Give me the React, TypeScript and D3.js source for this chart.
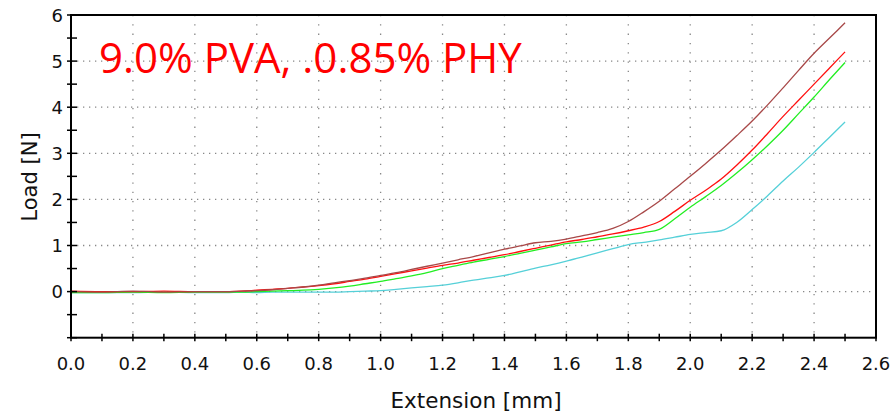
import React from "react";
import * as d3 from "d3";

const W = 895;
const H = 415;

const extension = [0, 0.1, 0.2, 0.3, 0.4, 0.5, 0.55, 0.6, 0.65, 0.7, 0.75, 0.8, 0.85, 0.9, 0.95, 1.0, 1.05, 1.1, 1.15, 1.2, 1.25, 1.3, 1.35, 1.4, 1.45, 1.5, 1.55, 1.6, 1.65, 1.7, 1.75, 1.8, 1.85, 1.9, 1.95, 2.0, 2.05, 2.1, 2.15, 2.2, 2.25, 2.3, 2.35, 2.4, 2.45, 2.5];

const loadBrown = [0, -0.01, 0.01, -0.01, 0, 0, 0.01, 0.02, 0.04, 0.07, 0.1, 0.14, 0.19, 0.24, 0.29, 0.35, 0.41, 0.48, 0.55, 0.62, 0.69, 0.76, 0.84, 0.92, 0.99, 1.06, 1.09, 1.14, 1.21, 1.28, 1.37, 1.52, 1.73, 1.96, 2.23, 2.5, 2.78, 3.07, 3.38, 3.7, 4.05, 4.42, 4.8, 5.17, 5.5, 5.83];
const loadRed = [0.01, 0, 0, 0.01, 0, 0, 0.01, 0.03, 0.05, 0.07, 0.1, 0.13, 0.17, 0.22, 0.27, 0.33, 0.39, 0.45, 0.51, 0.57, 0.62, 0.68, 0.74, 0.8, 0.87, 0.94, 1.01, 1.08, 1.13, 1.19, 1.25, 1.32, 1.4, 1.52, 1.74, 1.98, 2.2, 2.44, 2.74, 3.07, 3.43, 3.8, 4.15, 4.5, 4.85, 5.2];
const loadGreen = [-0.02, -0.02, -0.01, -0.02, -0.01, -0.01, -0.01, 0, 0.01, 0.02, 0.03, 0.05, 0.08, 0.12, 0.17, 0.22, 0.28, 0.34, 0.41, 0.5, 0.57, 0.64, 0.7, 0.76, 0.83, 0.9, 0.97, 1.04, 1.08, 1.13, 1.18, 1.23, 1.28, 1.35, 1.58, 1.83, 2.06, 2.3, 2.57, 2.86, 3.17, 3.5, 3.86, 4.22, 4.6, 4.97];
const loadCyan = [-0.02, -0.02, -0.02, -0.01, -0.02, -0.02, -0.01, -0.02, -0.01, -0.01, -0.01, -0.01, -0.01, 0, 0.01, 0.02, 0.05, 0.08, 0.11, 0.14, 0.19, 0.25, 0.3, 0.35, 0.43, 0.51, 0.58, 0.66, 0.75, 0.84, 0.93, 1.02, 1.07, 1.12, 1.18, 1.24, 1.28, 1.32, 1.5, 1.78, 2.08, 2.4, 2.7, 3.02, 3.35, 3.68];

const seriesNames = ["cyan", "green", "red", "brown"];
const seriesLoads = [loadCyan, loadGreen, loadRed, loadBrown];
const seriesColors = ["#55d0d8", "#22ee22", "#ff1010", "#a84848"];

const xTicksMajor = [0, 0.2, 0.4, 0.6, 0.8, 1.0, 1.2, 1.4, 1.6, 1.8, 2.0, 2.2, 2.4, 2.6];
const xTicksMinor = [0.1, 0.3, 0.5, 0.7, 0.9, 1.1, 1.3, 1.5, 1.7, 1.9, 2.1, 2.3, 2.5];
const yTicksMajor = [0, 1, 2, 3, 4, 5, 6];
const yTicksMinor = [-1, -0.5, 0.5, 1.5, 2.5, 3.5, 4.5, 5.5];

const title = "9.0% PVA, .0.85% PHY";
const xLabel = "Extension [mm]";
const yLabel = "Load [N]";

export default function App() {
  const left = 71, right = 876, top = 15, bottom = 337.7;
  const x = d3.scaleLinear().domain([0, 2.6]).range([left, right]);
  const y = d3.scaleLinear().domain([-1, 6]).range([bottom, top]);
  const line = d3
    .line<number>()
    .x((_, i) => x(extension[i]))
    .y((d) => y(d))
    .curve(d3.curveMonotoneX);
  const font = "'DejaVu Sans', Verdana, sans-serif";

  return (
    <svg
      width={W}
      height={H}
      style={{ position: "absolute", left: 0, top: 0, background: "#fff" }}
      xmlns="http://www.w3.org/2000/svg"
    >
      <rect x={0} y={0} width={W} height={H} fill="#fff" />
      {/* grid */}
      {yTicksMajor.filter((v) => v < 6).map((v) => (
        <line key={"gy" + v} x1={left} x2={right} y1={y(v)} y2={y(v)} stroke="#888" strokeWidth={1.3} strokeDasharray="1.3,4.7" />
      ))}
      {xTicksMajor.filter((v) => v > 0 && v < 2.6).map((v) => (
        <line key={"gx" + v} x1={x(v)} x2={x(v)} y1={top} y2={bottom} stroke="#888" strokeWidth={1.3} strokeDasharray="1.3,8" />
      ))}
      {/* curves */}
      {seriesLoads.map((s, i) => (
        <path key={seriesNames[i]} d={line(s) || ""} fill="none" stroke={seriesColors[i]} strokeWidth={1.3} />
      ))}
      {/* frame */}
      <rect x={left} y={top} width={right - left} height={bottom - top} fill="none" stroke="#000" strokeWidth={2} />
      {/* y ticks */}
      {[...yTicksMajor, ...yTicksMinor].map((v) => (
        <line key={"ty" + v} x1={left - 4} x2={left + 6} y1={y(v)} y2={y(v)} stroke="#000" strokeWidth={1.5} />
      ))}
      {yTicksMajor.map((v) => (
        <text key={"ly" + v} x={63} y={y(v) + 6.5} textAnchor="end" fontFamily={font} fontSize={18} fill="#111">
          {v}
        </text>
      ))}
      {/* x ticks */}
      {[...xTicksMajor, ...xTicksMinor].map((v) => (
        <line key={"tx" + v} x1={x(v)} x2={x(v)} y1={bottom - 4} y2={bottom + 3.5} stroke="#000" strokeWidth={1.5} />
      ))}
      {xTicksMajor.map((v) => (
        <text key={"lx" + v} x={x(v)} y={370} textAnchor="middle" fontFamily={font} fontSize={18} fill="#111">
          {v.toFixed(1)}
        </text>
      ))}
      {/* labels */}
      <text x={476} y={408} textAnchor="middle" fontFamily={font} fontSize={21.5} fill="#111">
        {xLabel}
      </text>
      <text transform={`translate(37,177) rotate(-90)`} textAnchor="middle" fontFamily={font} fontSize={21} fill="#111">
        {yLabel}
      </text>
      <text x={99} y={73} fontFamily="'Open Sans', sans-serif" fontSize={42} fill="#ff0000">
        {title}
      </text>
    </svg>
  );
}
